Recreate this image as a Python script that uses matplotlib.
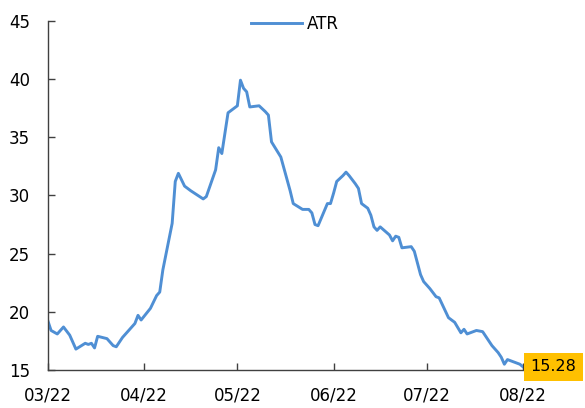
"""ATR line chart"""
import matplotlib

matplotlib.use("Agg")
import matplotlib.dates as mdates
import matplotlib.pyplot as plt
import pandas as pd

# ATR readings (date, value)
dates = [
    "2022-03-01", "2022-03-02", "2022-03-04", "2022-03-06", "2022-03-08",
    "2022-03-10", "2022-03-13", "2022-03-14", "2022-03-15", "2022-03-16",
    "2022-03-17", "2022-03-20", "2022-03-22", "2022-03-23", "2022-03-25",
    "2022-03-29", "2022-03-30", "2022-03-31", "2022-04-03", "2022-04-05",
    "2022-04-06", "2022-04-07", "2022-04-10", "2022-04-11", "2022-04-12",
    "2022-04-14", "2022-04-16", "2022-04-20", "2022-04-21", "2022-04-24",
    "2022-04-25", "2022-04-26", "2022-04-28", "2022-04-29", "2022-05-01",
    "2022-05-02", "2022-05-03", "2022-05-04", "2022-05-05", "2022-05-08",
    "2022-05-10", "2022-05-11", "2022-05-12", "2022-05-15", "2022-05-18",
    "2022-05-19", "2022-05-22", "2022-05-24", "2022-05-25", "2022-05-26",
    "2022-05-27", "2022-05-30", "2022-05-31", "2022-06-01", "2022-06-02",
    "2022-06-04", "2022-06-05", "2022-06-06", "2022-06-08", "2022-06-09",
    "2022-06-10", "2022-06-12", "2022-06-13", "2022-06-14", "2022-06-15",
    "2022-06-16", "2022-06-19", "2022-06-20", "2022-06-21", "2022-06-22",
    "2022-06-23", "2022-06-26", "2022-06-27", "2022-06-29", "2022-06-30",
    "2022-07-02", "2022-07-04", "2022-07-05", "2022-07-08", "2022-07-09",
    "2022-07-10", "2022-07-12", "2022-07-13", "2022-07-14", "2022-07-17",
    "2022-07-19", "2022-07-22", "2022-07-24", "2022-07-25", "2022-07-26",
    "2022-07-27", "2022-07-31", "2022-08-01",
]
atr = [
    19.2, 18.4, 18.1, 18.7, 18.0,
    16.8, 17.3, 17.2, 17.3, 16.9,
    17.9, 17.7, 17.1, 17.0, 17.8,
    19.0, 19.7, 19.3, 20.3, 21.4,
    21.7, 23.6, 27.6, 31.2, 31.9,
    30.8, 30.4, 29.7, 29.9, 32.2,
    34.1, 33.6, 37.1, 37.3, 37.7,
    39.9, 39.2, 38.9, 37.6, 37.7,
    37.2, 36.9, 34.6, 33.3, 30.4,
    29.3, 28.8, 28.8, 28.5, 27.5,
    27.4, 29.3, 29.3, 30.2, 31.2,
    31.7, 32.0, 31.7, 31.0, 30.6,
    29.3, 28.9, 28.3, 27.3, 27.0,
    27.3, 26.6, 26.1, 26.5, 26.4,
    25.5, 25.6, 25.2, 23.2, 22.6,
    22.0, 21.3, 21.2, 19.5, 19.3,
    19.1, 18.2, 18.5, 18.1, 18.4,
    18.3, 17.1, 16.5, 16.1, 15.5,
    15.9, 15.5, 15.28,
]
month_ticks = ["2022-03-01", "2022-04-01", "2022-05-01",
               "2022-06-01", "2022-07-01", "2022-08-01"]
y_ticks = [15, 20, 25, 30, 35, 40, 45]

x = pd.to_datetime(dates)
ticks = pd.to_datetime(month_ticks)

fig = plt.figure(figsize=(5.85, 4.08), dpi=100)
ax = fig.add_axes([0.082, 0.093, 0.812, 0.856])

line_color = "#4F8FD4"
ax.plot(x, atr, color=line_color, lw=2.1, label="ATR")

ax.set_xlim(ticks[0], ticks[-1])
ax.set_ylim(y_ticks[0], y_ticks[-1])
ax.set_xticks(ticks)
ax.xaxis.set_major_formatter(mdates.DateFormatter("%m/%y"))
ax.set_yticks(y_ticks)

for side in ["top", "right"]:
    ax.spines[side].set_visible(False)
for side in ["left", "bottom"]:
    ax.spines[side].set_color("#404040")
    ax.spines[side].set_linewidth(1)
ax.tick_params(axis="both", direction="in", length=5, width=1,
               color="#404040", labelsize=12, labelcolor="black")
ax.tick_params(axis="x", pad=12)
ax.tick_params(axis="y", pad=13)

ax.legend(loc="upper center", bbox_to_anchor=(0.52, 1.06), frameon=False,
          fontsize=12, handlelength=3.1, handletextpad=0.3)

# last value tag
ax.annotate(f"{atr[-1]:.2f}", xy=(x[-1], atr[-1]), xytext=(5.5, 0),
            textcoords="offset points", ha="left", va="center",
            fontsize=11.5, color="black", annotation_clip=False,
            bbox=dict(boxstyle="square,pad=0.42", fc="#FFC000", ec="none"))

fig.savefig("out.png", dpi=100)
